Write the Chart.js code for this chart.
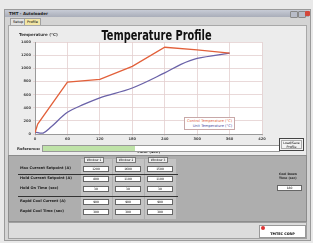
<!DOCTYPE html>
<html>
<head>
<meta charset="utf-8">
<script src="https://cdn.jsdelivr.net/npm/chart.js@4/dist/chart.umd.min.js"></script>
<style>
  body { margin: 0; width: 313px; height: 243px; background: #e9e9e9; font-family: "DejaVu Sans", sans-serif; overflow: hidden; position: relative; }
  .abs { position: absolute; }
  #win { left: 4px; top: 9px; width: 305px; height: 230px; background: #d4d4d4; border: 1px solid #9a9a9a; }
  #titlebar { left: 5px; top: 10px; width: 304px; height: 7px; background: linear-gradient(#c8ccd6, #a9adb9); font-size: 4px; font-weight: bold; color: #222; line-height: 7px; padding-left: 4px; box-sizing: border-box; }
  .tbtn { top: 11px; width: 6px; height: 5px; border-radius: 1px; }
  #tabs { left: 8px; top: 18px; font-size: 3.5px; }
  .tab { position: absolute; top: 0; height: 6px; line-height: 6px; padding: 0 2px; border: 1px solid #a0a0a0; border-bottom: none; background: #e2e2e2; white-space: nowrap; }
  #panel { left: 8px; top: 25px; width: 297px; height: 129px; background: #ececec; border: 1px solid #a8a8a8; }
  #chartbox { left: 8px; top: 26px; width: 297px; height: 128px; }
  #ctitle { left: 0; top: 25px; width: 313px; text-align: center; }
  #ctitle span { display: inline-block; font-family: "DejaVu Sans Condensed", sans-serif; font-weight: bold; font-size: 14px; color: #111; transform: scaleX(0.78); transform-origin: 50% 50%; white-space: nowrap; }
  #ytitle { left: 19px; top: 32px; font-size: 4px; font-weight: bold; color: #333; }
  #legend { left: 184px; top: 117px; padding: 1px 2px; border: 1px solid #c8a8a8; background: #fff; font-size: 3.6px; line-height: 4.6px; text-align: right; }
  #ref { left: 17px; top: 146px; font-size: 3.8px; font-weight: bold; color: #333; }
  #bar { left: 42px; top: 145px; width: 236px; height: 5px; background: #fff; border: 1px solid #999; }
  #barfill { left: 43px; top: 146px; width: 92px; height: 5px; background: #bfe3a8; }
  #loadsave { left: 279px; top: 138px; width: 25px; height: 13px; border: 1px solid #444; outline: 1px solid #aaa; outline-offset: -3px; background: #f2f2f2; font-size: 3.2px; text-align: center; line-height: 4px; padding-top: 2px; box-sizing: border-box; }
  #table { left: 8px; top: 155px; width: 297px; height: 65px; background: #aeaeae; border: 1px solid #8c8c8c; }
  .col { top: 159px; width: 31px; height: 60px; background: #c3c3c3; }
  .hdr { top: 157px; height: 4px; background: #efefef; border: 1px solid #777; font-size: 3px; line-height: 4px; text-align: center; }
  .lab { left: 20px; font-size: 3.6px; font-weight: bold; color: #222; white-space: nowrap; }
  .box { width: 24px; height: 4px; background: #fff; border: 1px solid #666; font-size: 3px; line-height: 4px; text-align: center; }
  .rule { left: 18px; width: 160px; height: 1px; background: #333; }
  #status { left: 8px; top: 222px; width: 297px; height: 15px; background: #dcdcdc; border: 1px solid #a0a0a0; }
  #logo { left: 259px; top: 225px; width: 45px; height: 11px; background: #fff; border: 1px solid #999; font-size: 3.4px; font-weight: bold; line-height: 16px; text-align: center; }
  #logodot { left: 261px; top: 226px; width: 4px; height: 4px; border-radius: 2px; background: #d33; }
</style>
</head>
<body>
<div class="abs" id="win"></div>
<div class="abs" id="titlebar">TMT - Autoloader</div>
<div class="abs tbtn" style="left:290px;background:#b8bcc8;border:1px solid #888"></div>
<div class="abs tbtn" style="left:298px;background:#b8bcc8;border:1px solid #888"></div>
<div class="abs tbtn" style="left:305px;width:5px;background:#d4473b"></div>
<div class="abs" id="tabs">
  <div class="tab" style="left:2px">Setup</div>
  <div class="tab" style="left:16px;background:#f3e6a6">Profile</div>
</div>
<div class="abs" id="panel"></div>
<div class="abs" id="chartbox"><canvas id="myChart"></canvas></div>
<div class="abs" id="ctitle"><span>Temperature Profile</span></div>
<div class="abs" id="ytitle">Temperature (°C)</div>
<div class="abs" id="legend">
  <div style="color:#e2603a">Control Temperature (°C)</div>
  <div style="color:#4a4aa0">Unit Temperature (°C)</div>
</div>
<div class="abs" id="ref">Reference:</div>
<div class="abs" id="bar"></div>
<div class="abs" id="barfill"></div>
<div class="abs" id="loadsave">Load/Save<br>Profile</div>

<div class="abs" id="table"></div>
<div id="grid"></div>
<div class="abs" id="status"></div>
<div class="abs" id="logo">TMTEC CORP</div>
<div class="abs" id="logodot"></div>

<script>
  // chart data (time in sec, temperature in °C)
  const controlTime = [0, 5, 60, 120, 180, 240, 300, 360];
  const controlTemp = [20, 150, 790, 830, 1030, 1320, 1280, 1230];
  const unitTime = [0, 15, 30, 60, 90, 120, 180, 240, 270, 300, 360];
  const unitTemp = [30, 15, 110, 330, 450, 550, 700, 930, 1060, 1150, 1230];
  const xTicks = [0, 60, 120, 180, 240, 300, 360, 420];
  const yTicks = [0, 200, 400, 600, 800, 1000, 1200, 1400];

  // settings table
  const windows = ["Window 1", "Window 2", "Window 3"];
  const rowLabels = ["Max Current Setpoint (A)", "Hold Current Setpoint (A)", "Hold On Time (sec)", "Rapid Cool Current (A)", "Rapid Cool Time (sec)"];
  const rowValues = [
    ["1200", "1600", "1500"],
    ["800", "1100", "1100"],
    ["30", "30", "30"],
    ["900", "900", "900"],
    ["300", "300", "300"],
  ];

  const toPoints = (xs, ys) => xs.map((x, i) => ({ x: x, y: ys[i] }));

  // build table
  const grid = document.getElementById("grid");
  const colX = [82, 114, 146];
  const rowY = [166, 176, 186, 199, 209];
  let html = "";
  colX.forEach((x, i) => {
    html += `<div class="abs col" style="left:${x - 1}px"></div>`;
    html += `<div class="abs hdr" style="left:${x + 2}px;width:18px">${windows[i]}</div>`;
  });
  rowLabels.forEach((label, r) => {
    html += `<div class="abs lab" style="top:${rowY[r]}px">${label}</div>`;
    colX.forEach((x, c) => {
      html += `<div class="abs box" style="left:${x + 1}px;top:${rowY[r]}px">${rowValues[r][c]}</div>`;
    });
  });
  html += `<div class="abs rule" style="top:174px"></div>`;
  html += `<div class="abs rule" style="top:196px"></div>`;
  html += `<div class="abs lab" style="left:279px;top:173px;font-size:3px;line-height:3.6px;text-align:center">Cool Down<br>Time (sec)</div>`;
  html += `<div class="abs box" style="left:277px;top:185px;width:23px">180</div>`;
  grid.innerHTML = html;

  // white plot background
  const plotBg = {
    id: "plotBg",
    beforeDraw(chart) {
      const a = chart.chartArea;
      const c = chart.ctx;
      c.save();
      c.fillStyle = "#ffffff";
      c.fillRect(a.left, a.top, a.right - a.left, a.bottom - a.top);
      c.restore();
    },
  };

  const tickFont = { family: "DejaVu Sans", size: 3.6, weight: "bold" };

  new Chart(document.getElementById("myChart"), {
    type: "line",
    data: {
      datasets: [
        {
          label: "Control Temperature (°C)",
          data: toPoints(controlTime, controlTemp),
          borderColor: "#e2603a",
          borderWidth: 1.3,
          pointRadius: 0,
          tension: 0,
        },
        {
          label: "Unit Temperature (°C)",
          data: toPoints(unitTime, unitTemp),
          borderColor: "#6a62a8",
          borderWidth: 1.3,
          pointRadius: 0,
          tension: 0.35,
        },
      ],
    },
    options: {
      responsive: true,
      maintainAspectRatio: false,
      animation: false,
      layout: { padding: { top: 16, right: 43, left: 0, bottom: 0 } },
      scales: {
        x: {
          type: "linear",
          min: 0,
          max: 420,
          afterBuildTicks: (axis) => { axis.ticks = xTicks.map((v) => ({ value: v })); },
          afterFit: (axis) => { axis.height = 20; },
          grid: { color: "#e3cfcf", lineWidth: 0.8, tickLength: 2 },
          border: { color: "#9a9a9a" },
          ticks: { font: tickFont, color: "#444", padding: 1, maxRotation: 0, callback: (v) => String(v) },
          title: { display: true, text: "Time (sec)", font: { family: "DejaVu Sans", size: 4, weight: "bold" }, color: "#222", padding: 0 },
        },
        y: {
          min: 0,
          max: 1400,
          afterBuildTicks: (axis) => { axis.ticks = yTicks.map((v) => ({ value: v })); },
          afterFit: (axis) => { axis.width = 27; },
          grid: { color: "#e3cfcf", lineWidth: 0.8, tickLength: 2 },
          border: { color: "#9a9a9a" },
          ticks: { font: tickFont, color: "#444", padding: 2, callback: (v) => String(v) },
        },
      },
      plugins: {
        legend: { display: false },
        tooltip: { enabled: false },
      },
    },
    plugins: [plotBg],
  });
</script>
</body>
</html>
